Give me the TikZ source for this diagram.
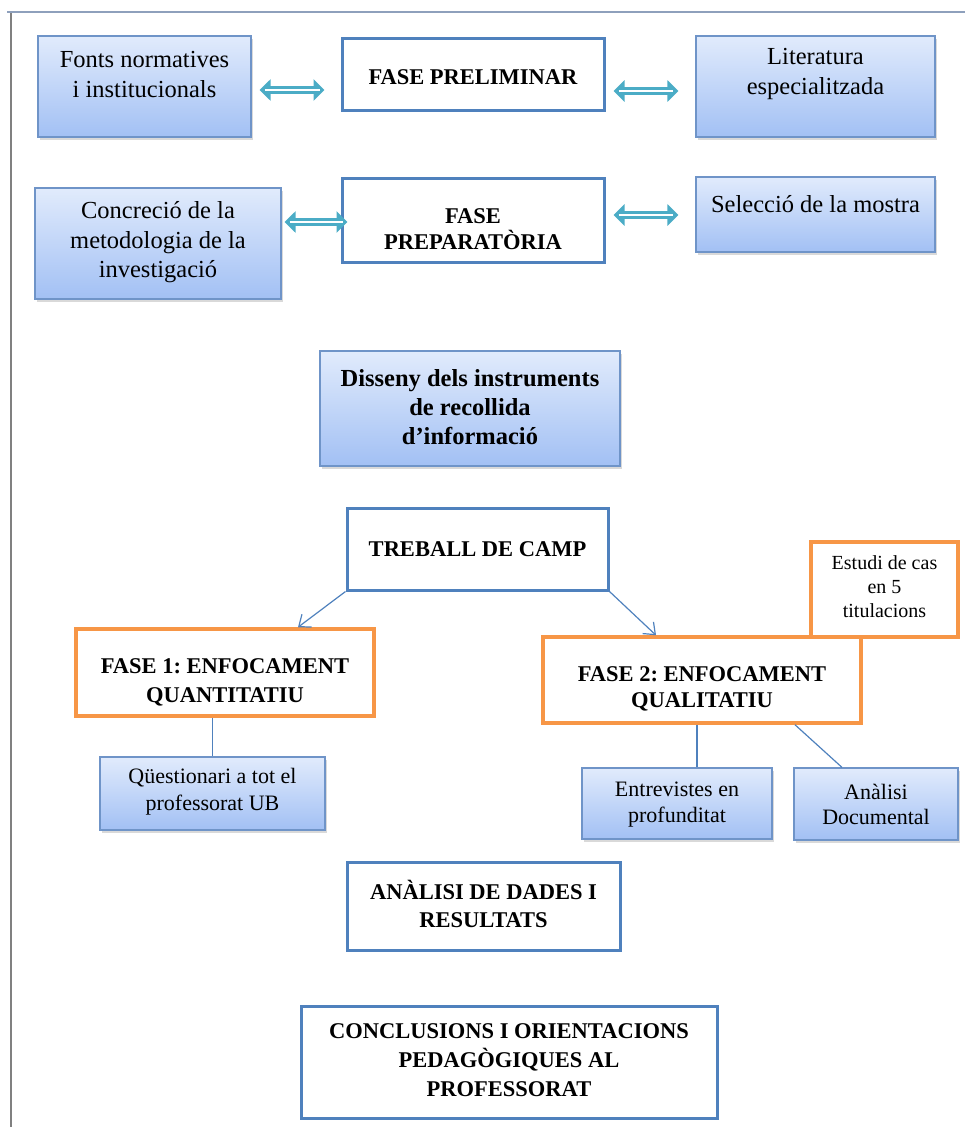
\documentclass[tikz,border=0pt]{standalone}
\usepackage{fontspec}
\setmainfont{Liberation Serif}
\frenchspacing
\usetikzlibrary{arrows.meta,shadows}
\definecolor{boxblue}{HTML}{4F81BD}
\definecolor{boxorange}{HTML}{F79646}
\definecolor{arrowteal}{HTML}{4BACC6}
\definecolor{gradtop}{HTML}{E1EBFC}
\definecolor{gradbot}{HTML}{A2C0F4}
\definecolor{gradline}{HTML}{6F94C8}
\definecolor{frameline}{HTML}{8EA0BC}
\begin{document}
\begin{tikzpicture}[x=1pt,y=-1pt,
    gbox/.style={draw=gradline,line width=1.2pt,top color=gradtop,bottom color=gradbot,
      drop shadow={shadow xshift=1.5pt,shadow yshift=-2.5pt,opacity=.3}},
    bbox/.style={draw=boxblue,line width=3pt,fill=white},
    obox/.style={draw=boxorange,line width=3.5pt,fill=white},
    txt/.style={align=center,font=\fontsize{24.5}{29.5}\selectfont},
    btxt/.style={align=center,font=\fontsize{22.5}{28}\selectfont\bfseries},
    stxt/.style={align=center,font=\fontsize{22}{27}\selectfont},
    ttxt/.style={align=center,font=\fontsize{20}{24}\selectfont},
    dbl/.style 2 args={draw=arrowteal,line width=8pt,
      {Triangle[length=11pt,width=21pt]}-{Triangle[length=11pt,width=21pt]},
      shorten <=#1,shorten >=#2,
      postaction={draw=white,line width=2.2pt,-,shorten <=#1+5pt,shorten >=#2+5pt}},
    lnk/.style={draw=boxblue,line width=1.2pt},
    lnkarr/.style={lnk,-{Straight Barb[length=10pt,width=16pt]}}]
  \useasboundingbox (0,0) rectangle (965,1127);
  \draw[frameline,line width=2pt] (7,12) -- (965,12);
  \draw[gray,line width=1.5pt] (11,13) -- (11,1127);

  \node[gbox,minimum width=213pt,minimum height=101pt] (fonts) at (144.5,86.5) {};
  \node[txt] (fontsT) at ([yshift=12pt]fonts.center) {Fonts normatives\\i institucionals};
  \node[bbox,minimum width=262pt,minimum height=72pt] (prel) at (473,74) {};
  \node[btxt] (prelT) at ([yshift=-3pt]prel.center) {FASE PRELIMINAR};
  \node[gbox,minimum width=239pt,minimum height=101pt] (lit) at (815.5,86.5) {};
  \node[txt] (litT) at ([yshift=12.5pt]lit.center) {Literatura\\especialitzada};

  \node[gbox,minimum width=246pt,minimum height=111pt] (conc) at (158,243.5) {};
  \node[txt] (concT) at ([yshift=1pt]conc.center) {Concreció de la\\metodologia de la\\investigació};
  \node[bbox,minimum width=262pt,minimum height=84pt] (prep) at (473,220) {};
  \node[btxt,font=\fontsize{22.5}{26}\selectfont\bfseries] (prepT) at ([yshift=-9pt]prep.center)
       {FASE\\PREPARATÒRIA};
  \node[gbox,minimum width=239pt,minimum height=75pt] (sel) at (815.5,214.5) {};
  \node[txt] (selT) at ([yshift=10pt]sel.center) {Selecció de la mostra};

  \draw[dbl={8pt}{16pt}] (fonts.east |- 0,90) -- (prel.west |- 0,90);
  \draw[dbl={8pt}{17pt}] (prel.east |- 0,91) -- (lit.west |- 0,91);
  \draw[dbl={3pt}{-7pt}] (conc.east |- 0,222) -- (prep.west |- 0,222);
  \draw[dbl={8pt}{17pt}] (prep.east |- 0,215) -- (sel.west |- 0,215);

  \node[gbox,minimum width=300pt,minimum height=115pt] (dis) at (470,408.5) {};
  \node[btxt,font=\fontsize{24.5}{29}\selectfont\bfseries] (disT) at ([yshift=1.5pt]dis.center)
       {Disseny dels instruments\\de recollida\\d’informació};

  \node[bbox,minimum width=261pt,minimum height=82pt] (treball) at (477.5,549) {};
  \node[btxt] (treballT) at (treball.center) {TREBALL DE CAMP};

  \node[obox,minimum width=298pt,minimum height=87pt] (fase1) at (225,672.5) {};
  \node[btxt,font=\fontsize{22.5}{29}\selectfont\bfseries] (fase1T) at ([yshift=-10pt]fase1.center)
       {FASE 1: ENFOCAMENT\\QUANTITATIU};
  \node[obox,minimum width=318pt,minimum height=86pt] (fase2) at (702,680) {};
  \node[btxt,font=\fontsize{22.5}{26.5}\selectfont\bfseries] (fase2T) at ([yshift=-9pt]fase2.center)
       {FASE 2: ENFOCAMENT\\QUALITATIU};
  \node[obox,minimum width=147pt,minimum height=95pt] (estudi) at (884.5,589.5) {};
  \node[ttxt] (estudiT) at ([yshift=2.5pt]estudi.center) {Estudi de cas\\en 5\\titulacions};

  \draw[lnkarr] (treball.south west) -- (fase1.north -| 298,0);
  \draw[lnkarr] (treball.south east) -- (fase2.north -| 656,0);

  \node[gbox,minimum width=225pt,minimum height=73pt] (quest) at (212.5,793.5) {};
  \node[stxt] (questT) at ([yshift=1.5pt]quest.center) {Qüestionari a tot el\\professorat UB};
  \node[gbox,minimum width=190pt,minimum height=71pt] (entre) at (677,803.5) {};
  \node[stxt,font=\fontsize{22}{25.5}\selectfont] (entreT) at ([yshift=-1pt]entre.center)
       {Entrevistes en\\profunditat};
  \node[gbox,minimum width=164pt,minimum height=72pt] (anal) at (876,804) {};
  \node[stxt,font=\fontsize{22}{25.5}\selectfont] (analT) at ([yshift=-0.5pt]anal.center)
       {Anàlisi\\Documental};

  \draw[lnk] (fase1.south -| quest.north) -- (quest.north);
  \draw[lnk] (fase2.south -| 697,0) -- (entre.north -| 697,0);
  \draw[lnk] (fase2.south -| 795,0) -- (anal.north -| 842,0);

  \node[bbox,minimum width=273pt,minimum height=88pt] (dades) at (483.5,906) {};
  \node[btxt] (dadesT) at ([yshift=2pt]dades.center) {ANÀLISI DE DADES I\\RESULTATS};

  \node[bbox,minimum width=416pt,minimum height=112pt] (concl) at (509,1062) {};
  \node[btxt,font=\fontsize{22.5}{29}\selectfont\bfseries] (conclT) at ([yshift=2pt]concl.center)
       {CONCLUSIONS I ORIENTACIONS\\PEDAGÒGIQUES AL\\PROFESSORAT};
\end{tikzpicture}
\end{document}
